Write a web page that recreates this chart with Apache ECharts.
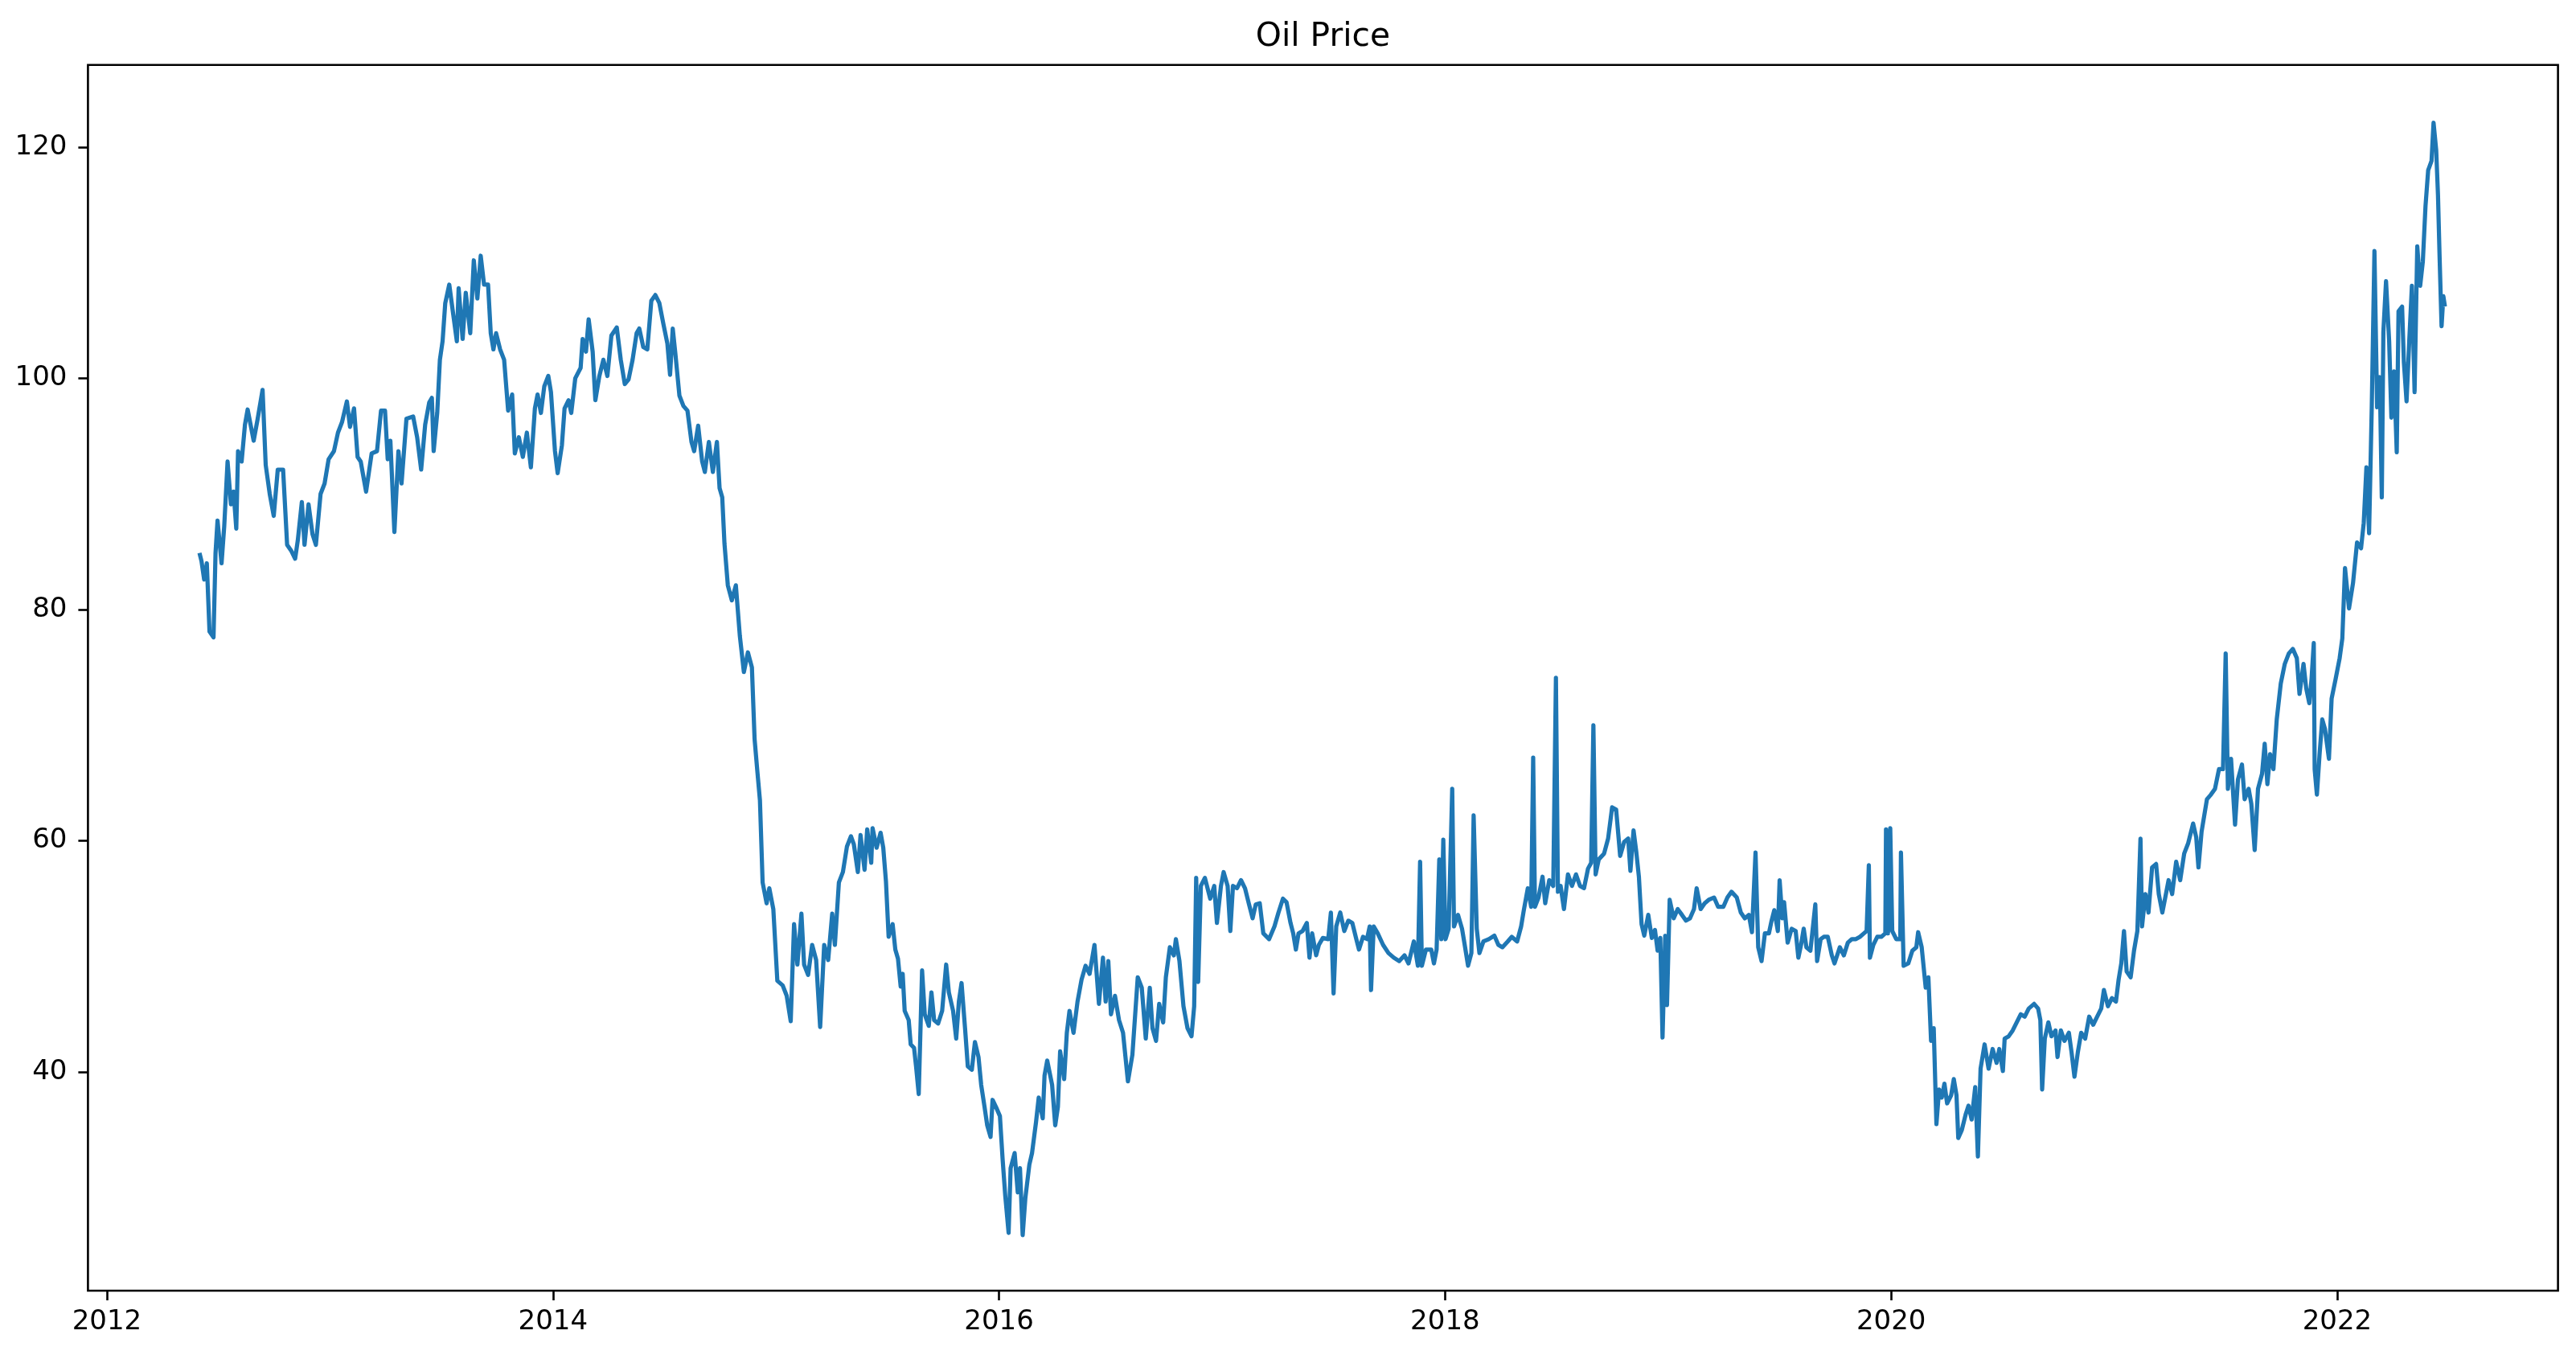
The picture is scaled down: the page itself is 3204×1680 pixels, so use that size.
<!DOCTYPE html>
<html>
<head>
<meta charset="utf-8">
<script src="https://cdn.jsdelivr.net/npm/echarts@6/dist/echarts.min.js"></script>
<style>
html,body{margin:0;padding:0;background:#fff;}
#chart{width:3204px;height:1680px;}
</style>
</head>
<body>
<div id="chart"></div>
<script>
// Decimal-year dates of the samples
const dateYears = [
2012.415,2012.424,2012.436,2012.448,2012.460,2012.478,2012.487,2012.496,2012.514,2012.526,
2012.541,2012.556,2012.568,2012.580,2012.588,2012.604,2012.619,2012.631,2012.646,2012.658,
2012.676,2012.698,2012.712,2012.730,2012.748,2012.766,2012.790,2012.808,2012.826,2012.844,
2012.856,2012.874,2012.886,2012.904,2012.922,2012.937,2012.958,2012.976,2012.994,2013.018,
2013.036,2013.054,2013.076,2013.090,2013.108,2013.124,2013.138,2013.162,2013.187,2013.211,
2013.229,2013.247,2013.259,2013.271,2013.289,2013.307,2013.321,
2013.343,2013.373,2013.391,2013.409,2013.427,2013.445,2013.457,2013.465,2013.481,2013.493,
2013.505,2013.517,2013.535,2013.553,2013.569,2013.577,2013.595,2013.609,2013.629,2013.645,
2013.661,2013.676,2013.691,2013.709,2013.721,2013.733,2013.745,2013.763,2013.781,2013.799,
2013.817,2013.829,2013.847,2013.865,2013.883,2013.901,2013.919,2013.931,2013.946,2013.961,
2013.979,2013.991,2014.009,2014.021,2014.040,2014.052,2014.070,2014.082,2014.100,2014.124,
2014.133,2014.148,2014.160,2014.178,2014.190,2014.208,2014.226,2014.244,2014.262,2014.286,
2014.304,2014.322,
2014.339,2014.357,2014.375,2014.387,2014.405,2014.423,2014.441,2014.459,2014.477,2014.495,
2014.513,2014.525,2014.537,2014.549,2014.567,2014.585,2014.603,2014.621,2014.633,2014.651,
2014.669,2014.681,2014.699,2014.717,2014.735,2014.747,2014.759,2014.769,2014.784,2014.802,
2014.820,2014.838,2014.856,2014.874,2014.892,2014.904,2014.916,2014.928,2014.940,2014.958,
2014.970,2014.988,2015.006,2015.030,2015.048,2015.066,2015.081,2015.096,2015.114,2015.126,
2015.144,2015.162,2015.180,2015.198,2015.216,2015.234,2015.252,2015.264,2015.282,2015.300,
2015.318,2015.336,
2015.349,2015.367,2015.379,2015.397,2015.409,2015.427,2015.433,2015.451,2015.469,2015.481,
2015.493,2015.505,2015.523,2015.535,2015.547,2015.559,2015.568,2015.577,2015.595,2015.604,
2015.619,2015.628,2015.640,2015.655,2015.667,2015.685,2015.697,2015.709,2015.727,2015.745,
2015.763,2015.775,2015.794,2015.808,2015.820,2015.832,2015.848,2015.860,2015.878,2015.892,
2015.908,2015.920,2015.935,2015.947,2015.962,2015.971,2015.986,2016.004,2016.016,2016.028,
2016.043,2016.052,2016.070,2016.084,2016.094,2016.106,2016.118,2016.136,2016.148,2016.166,
2016.178,2016.196,2016.204,2016.216,2016.238,2016.252,2016.264,2016.274,2016.292,2016.304,
2016.316,2016.334,2016.352,
2016.370,2016.388,2016.406,2016.428,2016.448,2016.466,2016.478,2016.490,2016.502,2016.520,
2016.538,2016.556,2016.578,2016.598,2016.622,2016.640,2016.658,2016.676,2016.688,2016.704,
2016.718,2016.736,2016.748,2016.766,2016.784,2016.793,2016.809,2016.827,2016.845,2016.863,
2016.875,2016.884,2016.893,2016.905,2016.923,2016.947,2016.965,2016.977,2016.995,2017.007,
2017.025,2017.037,2017.049,2017.067,2017.085,2017.103,2017.121,2017.137,2017.151,2017.169,
2017.185,2017.211,2017.235,2017.253,2017.273,2017.289,2017.307,2017.319,2017.331,2017.343,
2017.361,
2017.380,2017.392,2017.404,2017.422,2017.434,2017.452,2017.476,2017.488,2017.500,2017.512,
2017.530,2017.548,2017.566,2017.584,2017.602,2017.614,2017.632,2017.650,2017.662,2017.668,
2017.680,2017.698,2017.722,2017.746,2017.770,2017.794,2017.818,2017.836,2017.860,2017.878,
2017.888,2017.896,2017.914,2017.938,2017.950,2017.962,2017.974,2017.983,2017.992,2018.002,
2018.016,2018.032,2018.040,2018.058,2018.076,2018.088,2018.103,2018.118,2018.128,2018.142,
2018.154,2018.172,2018.196,2018.221,2018.239,2018.257,2018.281,2018.299,2018.323,2018.341,
2018.353,2018.371,2018.386,
2018.395,2018.403,2018.419,2018.437,2018.449,2018.467,2018.485,2018.497,2018.506,2018.518,
2018.533,2018.551,2018.569,2018.587,2018.605,2018.623,2018.641,2018.655,2018.665,2018.675,
2018.689,2018.713,2018.731,2018.749,2018.767,2018.785,2018.803,2018.821,2018.831,2018.845,
2018.857,2018.869,2018.881,2018.893,2018.911,2018.927,2018.941,2018.953,2018.965,2018.975,
2018.987,2018.995,2019.007,2019.025,2019.043,2019.062,2019.080,2019.098,2019.116,2019.128,
2019.146,2019.164,2019.182,2019.206,2019.224,2019.248,2019.266,2019.284,2019.308,2019.326,
2019.344,2019.362,2019.376,
2019.392,2019.404,2019.419,2019.434,2019.452,2019.464,2019.476,2019.492,2019.500,2019.512,
2019.520,2019.536,2019.554,2019.572,2019.584,2019.596,2019.608,2019.620,2019.638,2019.660,
2019.668,2019.684,2019.698,2019.716,2019.734,2019.746,2019.770,2019.788,2019.806,2019.824,
2019.842,2019.860,2019.878,2019.890,2019.900,2019.905,2019.920,2019.938,2019.956,2019.974,
2019.977,2019.986,2019.996,2020.005,2020.023,2020.041,2020.044,2020.056,2020.077,2020.095,
2020.113,2020.121,2020.137,2020.155,2020.167,2020.179,2020.191,2020.203,2020.215,2020.227,
2020.239,2020.251,2020.269,2020.281,2020.293,2020.301,2020.317,2020.335,2020.347,2020.361,
2020.377,2020.389,2020.401,
2020.419,2020.437,2020.455,2020.473,2020.485,2020.501,2020.509,2020.527,2020.545,2020.563,
2020.581,2020.599,2020.617,2020.641,2020.659,2020.669,2020.677,2020.689,2020.705,2020.719,
2020.737,2020.746,2020.761,2020.777,2020.797,2020.809,2020.822,2020.837,2020.852,2020.870,
2020.888,2020.906,2020.924,2020.942,2020.954,2020.972,2020.990,2021.008,2021.020,2021.032,
2021.044,2021.056,2021.074,2021.089,2021.104,2021.118,2021.125,2021.140,2021.154,2021.170,
2021.188,2021.200,2021.216,2021.230,2021.244,2021.260,2021.278,2021.296,2021.314,2021.332,
2021.354,2021.368,2021.378,2021.392,
2021.416,2021.434,2021.452,2021.470,2021.488,2021.500,2021.510,2021.524,2021.542,2021.555,
2021.573,2021.585,2021.603,2021.615,2021.630,2021.645,2021.663,2021.675,2021.687,2021.699,
2021.714,2021.729,2021.747,2021.765,2021.783,2021.801,2021.819,2021.831,2021.849,2021.861,
2021.875,2021.885,2021.895,2021.899,2021.909,2021.921,2021.933,2021.945,2021.963,2021.975,
2021.993,2022.011,2022.023,2022.035,2022.053,2022.071,2022.089,2022.107,2022.119,2022.131,
2022.143,2022.155,2022.167,2022.179,2022.191,2022.200,2022.207,2022.219,2022.233,2022.243,
2022.255,2022.267,2022.275,2022.291,2022.299,2022.311,2022.323,2022.335,2022.347,2022.359,
2022.372,2022.384,2022.396,2022.408,2022.423,2022.432,2022.444,2022.452,2022.459,2022.468,
2022.476,2022.483
];

// Oil price at each sample
const prices = [
84.9,84.2,82.6,84.0,78.1,77.6,84.9,87.7,84.0,87.2,
92.8,89.1,90.2,87.0,93.7,92.8,96.0,97.3,95.8,94.6,
96.5,99.0,92.5,90.0,88.1,92.1,92.1,85.6,85.1,84.4,
86.0,89.3,85.6,89.1,86.5,85.6,90.0,90.9,93.0,93.7,
95.3,96.2,98.0,95.8,97.4,93.2,92.8,90.2,93.5,93.7,
97.2,97.2,93.0,94.6,86.7,93.7,90.9,
96.5,96.7,94.9,92.1,96.0,97.9,98.3,93.7,97.0,101.6,
103.2,106.5,108.1,105.5,103.2,107.8,103.4,107.4,103.9,110.2,
106.9,110.6,108.1,108.1,103.9,102.5,103.9,102.5,101.6,97.2,
98.6,93.5,94.9,93.2,95.3,92.3,97.4,98.6,97.0,99.3,
100.2,98.8,93.7,91.8,94.2,97.4,98.1,97.0,100.0,100.9,
103.4,102.3,105.1,102.3,98.1,100.2,101.6,100.2,103.7,104.4,
101.6,99.5,
99.9,101.6,103.9,104.3,102.7,102.5,106.7,107.2,106.5,104.7,
103.0,100.3,104.3,102.1,98.5,97.6,97.2,94.5,93.7,95.9,
92.8,91.9,94.5,91.9,94.5,90.5,89.7,85.7,82.1,80.8,
82.1,77.7,74.6,76.3,75.0,68.8,66.1,63.5,56.4,54.6,
55.9,54.1,47.9,47.5,46.6,44.4,52.8,49.3,53.7,49.3,
48.4,51.0,49.7,43.9,51.0,49.7,53.7,51.0,56.4,57.3,
59.5,60.4,
59.7,57.3,60.5,57.5,61.0,58.1,61.1,59.4,60.7,59.4,
56.5,51.7,52.8,50.6,49.8,47.4,48.5,45.3,44.5,42.4,
42.1,40.5,38.1,48.8,45.0,44.0,46.9,44.5,44.2,45.3,
49.3,46.9,45.3,42.9,46.1,47.7,43.7,40.5,40.2,42.6,
41.3,38.9,37.0,35.4,34.4,37.6,37.0,36.2,32.5,29.3,
26.1,31.7,33.0,29.6,31.7,25.9,29.1,32.0,33.0,35.7,
37.8,36.0,39.7,41.0,38.9,35.4,37.0,41.8,39.4,43.4,
45.3,43.4,46.1,
48.0,49.2,48.5,51.0,45.9,49.9,46.1,49.6,45.0,46.6,
44.5,43.4,39.2,41.5,48.2,47.3,42.9,47.3,43.8,42.7,
45.9,44.3,48.2,50.8,50.1,51.5,49.6,45.7,43.8,43.1,
45.7,56.8,47.8,56.1,56.8,55.0,56.1,52.9,56.1,57.3,
56.1,52.2,56.1,55.9,56.6,55.9,54.5,53.3,54.5,54.6,
52.0,51.5,52.6,53.8,55.0,54.7,52.9,52.0,50.6,52.0,
52.2,
52.9,49.9,52.0,50.1,51.0,51.6,51.5,53.8,46.8,52.6,
53.8,52.2,53.1,52.9,51.5,50.6,51.7,51.5,52.6,47.1,
52.6,52.0,51.0,50.3,49.9,49.6,50.1,49.4,51.3,49.2,
58.2,49.2,50.6,50.6,49.4,50.6,58.4,51.5,60.1,51.5,
52.4,64.5,52.6,53.6,52.4,51.0,49.2,50.3,62.2,52.4,
50.3,51.3,51.5,51.8,51.0,50.8,51.3,51.7,51.3,52.6,
54.0,55.9,54.3,
67.2,54.3,55.1,56.9,54.6,56.6,56.1,74.1,55.6,56.1,
54.1,57.1,56.1,57.1,56.1,55.9,57.6,58.1,70.0,57.1,
58.4,58.9,60.2,62.9,62.7,58.7,59.9,60.2,57.4,60.9,
59.1,56.9,52.8,51.8,53.6,51.6,52.3,50.5,51.6,43.0,
51.8,45.8,54.9,53.3,54.1,53.6,53.1,53.3,54.1,55.9,
54.1,54.6,54.9,55.1,54.3,54.3,55.1,55.6,55.1,53.8,
53.3,53.6,52.1,
59.0,50.8,49.6,52.0,52.0,53.1,54.0,52.2,56.6,53.3,
54.7,51.2,52.4,52.2,49.9,51.0,52.4,50.8,50.5,54.5,
49.6,51.5,51.7,51.7,50.1,49.4,50.8,50.1,51.2,51.5,
51.5,51.7,52.0,52.2,57.9,49.9,51.0,51.7,51.7,52.0,
61.0,52.0,61.1,52.2,51.5,51.5,59.0,49.2,49.4,50.5,
50.8,52.1,50.8,47.3,48.2,42.7,43.8,35.5,38.5,37.8,
39.0,37.3,38.0,39.4,38.0,34.3,35.0,36.4,37.1,35.9,
38.7,32.7,40.3,
42.4,40.3,42.0,40.8,42.0,40.1,42.9,43.1,43.6,44.3,
45.0,44.8,45.5,45.9,45.5,44.5,38.5,42.9,44.3,43.1,
43.6,41.3,43.6,42.7,43.4,41.7,39.6,41.7,43.4,42.9,
44.8,44.1,44.8,45.5,47.1,45.7,46.4,46.1,48.0,49.4,
52.2,48.7,48.2,50.5,52.2,60.2,52.6,55.4,53.8,57.7,
58.0,55.4,53.8,55.2,56.6,55.4,58.2,56.6,58.9,59.8,
61.5,60.3,57.7,60.8,
63.6,64.0,64.5,66.2,66.2,76.2,64.5,67.1,61.4,65.3,
66.6,63.6,64.5,63.2,59.2,64.5,65.8,68.4,64.9,67.5,
66.2,70.5,73.6,75.3,76.2,76.6,75.8,72.7,75.3,73.2,
71.9,74.0,77.1,66.2,64.0,67.5,70.5,69.7,67.1,72.3,
74.0,75.8,77.5,83.6,80.1,82.3,85.8,85.3,87.5,92.3,
86.6,97.5,111.0,97.5,100.1,89.7,104.0,108.4,103.2,96.6,
100.6,93.6,105.8,106.2,101.4,98.0,103.2,108.0,98.8,111.4,
108.0,110.1,114.9,118.0,118.8,122.1,119.7,115.8,110.6,104.5,
107.1,106.2
];

const xTickYears = [2012, 2014, 2016, 2018, 2020, 2022];
const yTickValues = [40, 60, 80, 100, 120];
const chartTitle = 'Oil Price';

const seriesData = dateYears.map((d, i) => [d, prices[i]]);

const chart = echarts.init(document.getElementById('chart'), null, {renderer: 'canvas'});
const FONT = 'DejaVu Sans';
const gridLeft = 109.4, gridRight = 22.4, gridTop = 80.7, gridBottom = 75;
const titleCenterX = gridLeft + (3204 - gridLeft - gridRight) / 2;

chart.setOption({
  animation: false,
  backgroundColor: '#ffffff',
  grid: {
    left: gridLeft, right: gridRight, top: gridTop, bottom: gridBottom,
    show: true, borderColor: '#000000', borderWidth: 2.6, backgroundColor: 'transparent'
  },
  graphic: [{
    type: 'text', x: titleCenterX, y: 46,
    style: {text: chartTitle, font: '40.8px "DejaVu Sans"', fill: '#000', textAlign: 'center', textVerticalAlign: 'middle'}
  }],
  xAxis: {
    type: 'value', min: 2011.915, max: 2022.99,
    axisLine: {show: false},
    splitLine: {show: false},
    axisTick: {show: true, length: 12, lineStyle: {color: '#000', width: 2.6}, customValues: xTickYears},
    axisLabel: {show: true, margin: 22, fontFamily: FONT, fontSize: 34, color: '#000',
      customValues: xTickYears, formatter: v => String(Math.round(v))}
  },
  yAxis: {
    type: 'value', min: 21.1, max: 127.1,
    axisLine: {show: false},
    splitLine: {show: false},
    axisTick: {show: true, length: 12, lineStyle: {color: '#000', width: 2.6}, customValues: yTickValues},
    axisLabel: {show: true, margin: 26, fontFamily: FONT, fontSize: 34, color: '#000',
      customValues: yTickValues, formatter: v => String(Math.round(v))}
  },
  series: [{
    type: 'line', data: seriesData, showSymbol: false, symbol: 'none',
    lineStyle: {color: '#1f77b4', width: 5.2, join: 'round', cap: 'butt'},
    itemStyle: {color: '#1f77b4'},
    sampling: null, smooth: false, clip: true
  }]
});
</script>
</body>
</html>
